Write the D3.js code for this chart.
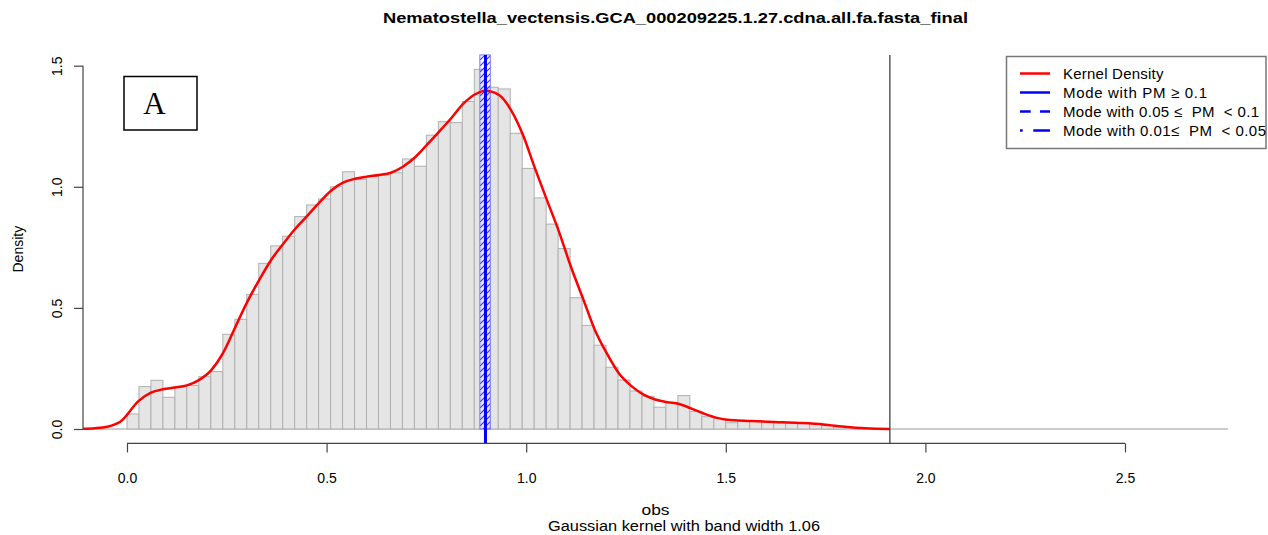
<!DOCTYPE html>
<html>
<head>
<meta charset="utf-8">
<script src="https://cdn.jsdelivr.net/npm/d3@7"></script>
<style>
  html, body { margin: 0; padding: 0; background: #fff; }
  svg { display: block; }
  text { font-family: "Liberation Sans", Arial, Helvetica, sans-serif; fill: #000; white-space: pre; }
</style>
</head>
<body>
<svg id="chart" width="1268" height="535"></svg>
<script>
// Histogram breaks (obs) and densities per bin
const breaks = [0.00, 0.03, 0.06, 0.09, 0.12, 0.15, 0.18, 0.21, 0.24, 0.27,
  0.30, 0.33, 0.36, 0.39, 0.42, 0.45, 0.48, 0.51, 0.54, 0.57,
  0.60, 0.63, 0.66, 0.69, 0.72, 0.75, 0.78, 0.81, 0.84, 0.87,
  0.90, 0.93, 0.96, 0.99, 1.02, 1.05, 1.08, 1.11, 1.14, 1.17,
  1.20, 1.23, 1.26, 1.29, 1.32, 1.35, 1.38, 1.41, 1.44, 1.47,
  1.50, 1.53, 1.56, 1.59, 1.62, 1.65, 1.68, 1.71, 1.74, 1.77, 1.80];
const histDensity = [0.062, 0.175, 0.201, 0.131, 0.175, 0.180, 0.216, 0.237, 0.391, 0.453,
  0.556, 0.684, 0.756, 0.796, 0.877, 0.925, 0.950, 1.000, 1.062, 1.031,
  1.045, 1.049, 1.058, 1.115, 1.085, 1.213, 1.269, 1.265, 1.352, 1.485,
  1.411, 1.404, 1.221, 1.076, 0.954, 0.846, 0.745, 0.542, 0.428, 0.346,
  0.255, 0.202, 0.157, 0.135, 0.090, 0.106, 0.138, 0.073, 0.051, 0.043,
  0.026, 0.034, 0.034, 0.030, 0.026, 0.026, 0.026, 0.023, 0.014, 0.010];

// Kernel density estimate
const kdeX = [-0.110, -0.080, -0.050, -0.017, 0.030, 0.060, 0.090, 0.120, 0.150, 0.180,
  0.210, 0.240, 0.270, 0.300, 0.331, 0.361, 0.391, 0.421, 0.451, 0.481,
  0.511, 0.541, 0.571, 0.601, 0.631, 0.661, 0.691, 0.721, 0.751, 0.782,
  0.812, 0.842, 0.872, 0.898, 0.932, 0.962, 0.992, 1.022, 1.052, 1.082,
  1.112, 1.142, 1.172, 1.202, 1.232, 1.263, 1.293, 1.323, 1.353, 1.383,
  1.413, 1.443, 1.473, 1.503, 1.563, 1.623, 1.683, 1.744, 1.804, 1.850, 1.911];
const kdeY = [0.001, 0.003, 0.009, 0.030, 0.117, 0.150, 0.164, 0.171, 0.180, 0.202,
  0.241, 0.312, 0.416, 0.521, 0.615, 0.698, 0.764, 0.826, 0.879, 0.934,
  0.984, 1.017, 1.033, 1.042, 1.049, 1.058, 1.083, 1.121, 1.173, 1.228,
  1.283, 1.342, 1.382, 1.397, 1.379, 1.317, 1.214, 1.076, 0.945, 0.815,
  0.670, 0.540, 0.409, 0.312, 0.230, 0.178, 0.143, 0.122, 0.111, 0.103,
  0.085, 0.065, 0.048, 0.038, 0.033, 0.029, 0.025, 0.019, 0.008, 0.003, 0.000];

// Mode and its credible band
const modeValue = 0.898;
const modeBand = [0.884, 0.910];
const upperBound = 1.911;

const xTicks = [0.0, 0.5, 1.0, 1.5, 2.0, 2.5];
const yTicks = [0.0, 0.5, 1.0, 1.5];

const titleText = "Nematostella_vectensis.GCA_000209225.1.27.cdna.all.fa.fasta_final";
const legendLabels = ["Kernel Density", "Mode with PM \u2265 0.1",
  "Mode with 0.05 \u2264  PM  < 0.1", "Mode with 0.01\u2264  PM  < 0.05"];

const svg = d3.select("#chart");

const x = d3.scaleLinear().domain([-0.1102, 2.758]).range([83, 1228]);
const y = d3.scaleLinear().domain([0, 1.5]).range([429, 65.7]);
const plotTop = y(1.5444), plotBottom = y(-0.0594);

// hatch pattern for the mode band
const defs = svg.append("defs");
const pat = defs.append("pattern")
  .attr("id", "hatch").attr("patternUnits", "userSpaceOnUse")
  .attr("width", 6).attr("height", 6);
pat.append("path").attr("d", "M-1,7 L7,-1").attr("stroke", "#2a2aff").attr("stroke-width", 1.1);

// zero line
svg.append("line")
  .attr("x1", x.range()[0]).attr("x2", x.range()[1])
  .attr("y1", y(0)).attr("y2", y(0))
  .attr("stroke", "#9a9a9a").attr("stroke-width", 1);

// histogram bars
svg.append("g").selectAll("rect").data(histDensity).join("rect")
  .attr("x", (d, i) => x(breaks[i]))
  .attr("width", (d, i) => x(breaks[i + 1]) - x(breaks[i]))
  .attr("y", d => y(d))
  .attr("height", d => y(0) - y(d))
  .attr("fill", "#e5e5e5")
  .attr("stroke", "#b0b0b0")
  .attr("stroke-width", 1);

// mode band
svg.append("rect")
  .attr("x", x(modeBand[0])).attr("width", x(modeBand[1]) - x(modeBand[0]))
  .attr("y", plotTop).attr("height", y(0) - plotTop)
  .attr("fill", "url(#hatch)")
  .attr("stroke", "#7070ff").attr("stroke-width", 1);

// kernel density curve
const line = d3.line().x(d => x(d[0])).y(d => y(d[1])).curve(d3.curveMonotoneX);
svg.append("path")
  .datum(kdeX.map((v, i) => [v, kdeY[i]]))
  .attr("d", line)
  .attr("fill", "none").attr("stroke", "#ff0000").attr("stroke-width", 2.5);

// mode line
svg.append("line")
  .attr("x1", x(modeValue)).attr("x2", x(modeValue))
  .attr("y1", plotTop).attr("y2", plotBottom)
  .attr("stroke", "#0000ff").attr("stroke-width", 3);

// upper bound line
svg.append("line")
  .attr("x1", x(upperBound)).attr("x2", x(upperBound))
  .attr("y1", plotTop).attr("y2", plotBottom)
  .attr("stroke", "#333").attr("stroke-width", 1.2);

// x axis
const xAxis = svg.append("g").attr("transform", `translate(0,${plotBottom})`)
  .call(d3.axisBottom(x).tickValues(xTicks).tickFormat(d3.format(".1f")).tickSize(9).tickPadding(21));
xAxis.select(".domain").attr("stroke", "#444").attr("stroke-width", 1.2)
  .attr("d", `M${x(0)},0H${x(2.5)}`);
xAxis.selectAll(".tick line").attr("stroke", "#444").attr("stroke-width", 1.2);
xAxis.selectAll("text").attr("font-size", 14).attr("font-family", "Liberation Sans, Arial, sans-serif").attr("fill", "#000");

// y axis
const yAxis = svg.append("g").attr("transform", `translate(${x.range()[0]},0)`)
  .call(d3.axisLeft(y).tickValues(yTicks).tickFormat(d3.format(".1f")).tickSize(9).tickSizeOuter(0));
yAxis.select(".domain").attr("stroke", "#444").attr("stroke-width", 1.2)
  .attr("d", `M0,${y(0)}V${y(1.5)}`);
yAxis.selectAll(".tick line").attr("stroke", "#444").attr("stroke-width", 1.2);
yAxis.selectAll(".tick text").remove();
yAxis.selectAll(".tick").append("text")
  .attr("transform", "translate(-21,0) rotate(-90)")
  .attr("text-anchor", "middle")
  .attr("font-size", 14)
  .text(d => d3.format(".1f")(d));

// titles
svg.append("text").attr("x", 675.5).attr("y", 23).attr("text-anchor", "middle")
  .attr("font-size", 15.5).attr("font-weight", "bold")
  .attr("textLength", 585).attr("lengthAdjust", "spacingAndGlyphs").text(titleText);
svg.append("text").attr("x", 655.5).attr("y", 515).attr("text-anchor", "middle")
  .attr("font-size", 14).attr("textLength", 28).attr("lengthAdjust", "spacingAndGlyphs").text("obs");
svg.append("text").attr("x", 684).attr("y", 531).attr("text-anchor", "middle")
  .attr("font-size", 14).attr("textLength", 272).attr("lengthAdjust", "spacingAndGlyphs")
  .text("Gaussian kernel with band width 1.06");
svg.append("text").attr("transform", `translate(23,${(plotTop + plotBottom) / 2}) rotate(-90)`)
  .attr("text-anchor", "middle").attr("font-size", 14).text("Density");

// panel tag
svg.append("rect").attr("x", 124).attr("y", 76.5).attr("width", 73).attr("height", 53.5)
  .attr("fill", "#fff").attr("stroke", "#000").attr("stroke-width", 1.5);
svg.append("text").attr("x", 154.5).attr("y", 114).attr("text-anchor", "middle")
  .style("font-family", "'Liberation Serif', 'Times New Roman', serif")
  .attr("font-size", 31).text("A");

// legend
const lg = svg.append("g");
lg.append("rect").attr("x", 1006.5).attr("y", 56.5).attr("width", 259.5).attr("height", 92)
  .attr("fill", "#fff").attr("stroke", "#777").attr("stroke-width", 1.5);
const legendStyles = [
  { color: "#ff0000", dash: null },
  { color: "#0000ff", dash: null },
  { color: "#0000ff", dash: "10.7,9.3,10,0" },
  { color: "#0000ff", dash: "2.7,10.6,16.7,0" }
];
const legendWidths = [100.5, 144, 196, 203];
const rowY = [73.5, 92.5, 111.5, 130.5];
legendStyles.forEach((s, i) => {
  lg.append("line").attr("x1", 1020).attr("x2", 1050).attr("y1", rowY[i]).attr("y2", rowY[i])
    .attr("stroke", s.color).attr("stroke-width", 2.5)
    .attr("stroke-dasharray", s.dash);
  lg.append("text").attr("x", 1063).attr("y", rowY[i] + 5).attr("font-size", 15)
    .attr("textLength", legendWidths[i]).attr("lengthAdjust", "spacing")
    .text(legendLabels[i]);
});
</script>
</body>
</html>
